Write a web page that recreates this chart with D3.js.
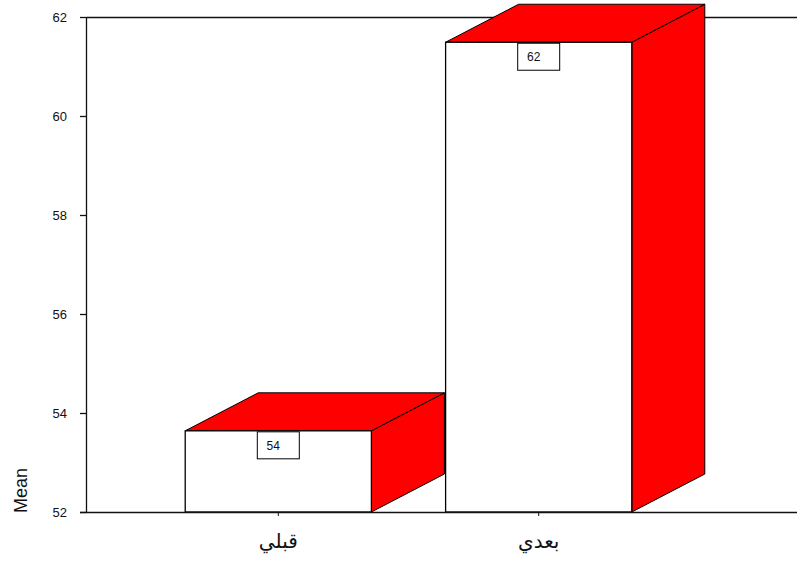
<!DOCTYPE html>
<html>
<head>
<meta charset="utf-8">
<script src="https://cdn.jsdelivr.net/npm/d3@7"></script>
<style>
  html, body { margin: 0; padding: 0; background: #fff; }
  svg { display: block; font-family: Arial, "Liberation Sans", sans-serif; }
</style>
</head>
<body>
<div id="chart"></div>
<script>
const categories = ["قبلي", "بعدي"];
const means = [53.64, 61.49];
const valueLabels = ["54", "62"];
const yTicks = [52, 54, 56, 58, 60, 62];

const width = 797;
const height = 563;
const depthX = 73;
const depthY = 38;

const svg = d3
  .select("#chart")
  .append("svg")
  .attr("width", width)
  .attr("height", height);

const x = d3.scaleBand().domain(categories).range([111, 706]).padding(0.285);
const y = d3.scaleLinear().domain([52, 62]).range([512, 17]);

const axisX = 86.5;

// top frame line
svg
  .append("line")
  .attr("x1", axisX)
  .attr("x2", width)
  .attr("y1", y(62) + 0.5)
  .attr("y2", y(62) + 0.5)
  .attr("stroke", "#111")
  .attr("stroke-width", 1.3);

// bars
const bars = svg
  .append("g")
  .selectAll("g")
  .data(categories.map((c, i) => ({ cat: c, value: means[i], label: valueLabels[i] })))
  .enter()
  .append("g");

bars.each(function (d) {
  const g = d3.select(this);
  const x0 = x(d.cat);
  const x1 = x0 + x.bandwidth();
  const y0 = y(52);
  const y1 = y(d.value);

  // side face
  g.append("path")
    .attr("d", `M${x1},${y0} L${x1 + depthX},${y0 - depthY} L${x1 + depthX},${y1 - depthY} L${x1},${y1} Z`)
    .attr("fill", "#ff0000")
    .attr("stroke", "#000")
    .attr("stroke-width", 1);

  // top face
  g.append("path")
    .attr("d", `M${x0},${y1} L${x0 + depthX},${y1 - depthY} L${x1 + depthX},${y1 - depthY} L${x1},${y1} Z`)
    .attr("fill", "#ff0000")
    .attr("stroke", "#000")
    .attr("stroke-width", 1);

  // front face
  g.append("rect")
    .attr("x", x0)
    .attr("y", y1)
    .attr("width", x.bandwidth())
    .attr("height", y0 - y1)
    .attr("fill", "#fff")
    .attr("stroke", "#000")
    .attr("stroke-width", 1.3);

  // value box
  const cx = x0 + x.bandwidth() / 2;
  g.append("rect")
    .attr("x", cx - 21)
    .attr("y", y1 + 1)
    .attr("width", 42)
    .attr("height", 27)
    .attr("fill", "#fff")
    .attr("stroke", "#000")
    .attr("stroke-width", 1);

  g.append("text")
    .attr("x", cx - 5)
    .attr("y", y1 + 19)
    .attr("text-anchor", "middle")
    .attr("font-size", 12)
    .attr("fill", "#111")
    .text(d.label);
});

// y axis
svg
  .append("line")
  .attr("x1", axisX)
  .attr("x2", axisX)
  .attr("y1", y(62))
  .attr("y2", y(52))
  .attr("stroke", "#111")
  .attr("stroke-width", 1.3);

const yt = svg.append("g").selectAll("g").data(yTicks).enter().append("g");
yt.append("line")
  .attr("x1", 80)
  .attr("x2", axisX)
  .attr("y1", (d) => y(d) + 0.5)
  .attr("y2", (d) => y(d) + 0.5)
  .attr("stroke", "#111")
  .attr("stroke-width", 1.3);
yt.append("text")
  .attr("x", 67)
  .attr("y", (d) => y(d) + 5)
  .attr("text-anchor", "end")
  .attr("font-size", 13)
  .attr("fill", "#111")
  .text((d) => d);

// x axis
svg
  .append("line")
  .attr("x1", 80)
  .attr("x2", width)
  .attr("y1", y(52) + 0.5)
  .attr("y2", y(52) + 0.5)
  .attr("stroke", "#111")
  .attr("stroke-width", 1.3);

svg
  .append("g")
  .selectAll("line")
  .data(categories)
  .enter()
  .append("line")
  .attr("x1", (d) => x(d) + x.bandwidth() / 2)
  .attr("x2", (d) => x(d) + x.bandwidth() / 2)
  .attr("y1", y(52))
  .attr("y2", y(52) + 4)
  .attr("stroke", "#111")
  .attr("stroke-width", 1);

svg
  .append("g")
  .selectAll("text")
  .data(categories)
  .enter()
  .append("text")
  .attr("x", (d) => x(d) + x.bandwidth() / 2)
  .attr("y", 548)
  .attr("text-anchor", "middle")
  .attr("font-family", "'DejaVu Sans', Arial, sans-serif")
  .attr("font-size", 20)
  .attr("fill", "#111")
  .text((d) => d);

// y label
svg
  .append("text")
  .attr("transform", `translate(27,${y(52) + 1}) rotate(-90)`)
  .attr("text-anchor", "start")
  .attr("font-size", 18)
  .attr("fill", "#111")
  .text("Mean");
</script>
</body>
</html>
